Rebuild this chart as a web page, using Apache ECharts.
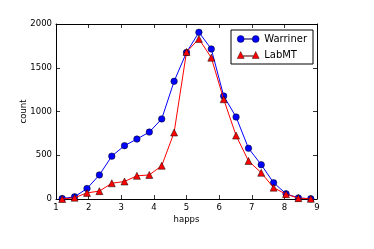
<!DOCTYPE html>
<html><head><meta charset="utf-8">
<script src="https://cdn.jsdelivr.net/npm/echarts@6/dist/echarts.min.js"></script>
<style>html,body{margin:0;padding:0;background:#fff}#c{width:374px;height:249px}</style>
</head><body><div id="c"></div>
<script>
var happs = [1.19,1.57,1.95,2.33,2.71,3.10,3.48,3.86,4.24,4.62,5.00,5.38,5.76,6.14,6.52,6.90,7.29,7.67,8.05,8.43,8.81];
var warriner = [5,25,120,275,490,610,685,765,915,1345,1675,1905,1715,1177,937,580,392,186,60,12,3];
var labmt = [0,15,70,90,180,200,265,275,380,760,1680,1830,1615,1140,725,435,300,130,55,10,2];
var xTicks = [1,2,3,4,5,6,7,8,9];
var yTicks = [0,500,1000,1500,2000];

function pairs(xs, ys){ return xs.map(function(x,i){ return [x, ys[i]]; }); }
var font = 'DejaVu Sans';
var chart = echarts.init(document.getElementById('c'), null, {renderer:'canvas'});
var axisCommon = {
  axisLine:{show:true,onZero:false,lineStyle:{color:'#000',width:1}},
  axisTick:{show:true,inside:true,length:4,lineStyle:{color:'#000',width:0.8}},
  splitLine:{show:false}
};
chart.setOption({
  animation:false,
  grid:{left:56,right:57,top:24,bottom:50},
  xAxis:[
    Object.assign({type:'value',min:xTicks[0],max:xTicks[xTicks.length-1],interval:1,name:'happs',nameLocation:'middle',nameGap:16,nameMoveOverlap:false,
      nameTextStyle:{fontFamily:font,fontSize:8.5,color:'#000'},
      axisLabel:{fontFamily:font,fontSize:8.5,color:'#000',margin:4,formatter:function(v){return String(v);}}},axisCommon),
    Object.assign({type:'value',min:xTicks[0],max:xTicks[xTicks.length-1],interval:1,position:'top',axisLabel:{show:false}},axisCommon)
  ],
  yAxis:[
    Object.assign({type:'value',min:yTicks[0],max:yTicks[yTicks.length-1],interval:500,name:'count',nameLocation:'middle',nameGap:28,nameRotate:90,nameMoveOverlap:false,
      nameTextStyle:{fontFamily:font,fontSize:8.5,color:'#000'},
      axisLabel:{fontFamily:font,fontSize:8.5,color:'#000',margin:4,formatter:function(v){return String(v);}}},axisCommon),
    Object.assign({type:'value',min:yTicks[0],max:yTicks[yTicks.length-1],interval:500,position:'right',axisLabel:{show:false}},axisCommon)
  ],
  legend:{
    orient:'vertical',left:231,top:30,
    borderColor:'#000',borderWidth:1,padding:[4,6,4,6],backgroundColor:'#fff',
    itemWidth:22,itemHeight:7,itemGap:6,
    itemStyle:{borderWidth:0.4,borderColor:'#000'},
    textStyle:{fontFamily:font,fontSize:10,color:'#000'},
    data:[
      {name:'Warriner',icon:'path://M0,4a3.5,3.5 0 1,0 7,0a3.5,3.5 0 1,0 -7,0Z M7,3.7L15,3.7L15,4.3L7,4.3Z M15,4a3.5,3.5 0 1,0 7,0a3.5,3.5 0 1,0 -7,0Z'},
      {name:'LabMT',icon:'path://M0,7.5L3.5,0.5L7,7.5Z M6,4.7L16,4.7L16,5.3L6,5.3Z M15,7.5L18.5,0.5L22,7.5Z'}
    ]
  },
  series:[
    {name:'Warriner',type:'line',data:pairs(happs,warriner),symbol:'circle',symbolSize:6.5,
      lineStyle:{color:'#0000ff',width:1},itemStyle:{color:'#0000ff',borderColor:'#000',borderWidth:0.5},z:3},
    {name:'LabMT',type:'line',data:pairs(happs,labmt),symbol:'triangle',symbolSize:7,
      lineStyle:{color:'#ff0000',width:1},itemStyle:{color:'#ff0000',borderColor:'#000',borderWidth:0.5},z:4}
  ]
});
</script></body></html>
